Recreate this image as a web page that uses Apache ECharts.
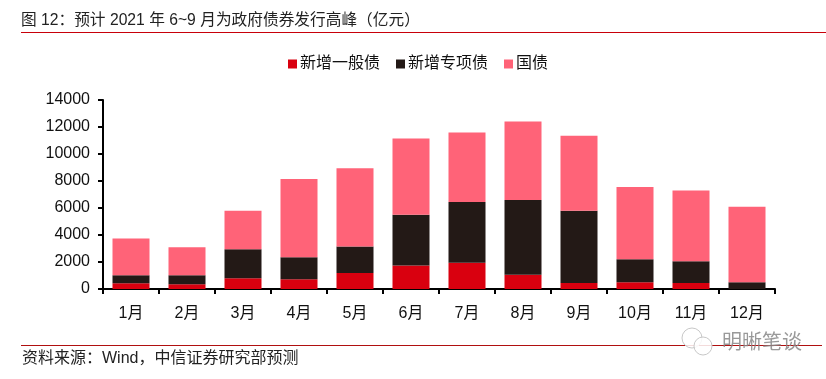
<!DOCTYPE html>
<html><head><meta charset="utf-8">
<style>html,body{margin:0;padding:0;background:#fff}#c{width:826px;height:379px}</style>
<script src="https://cdn.jsdelivr.net/npm/echarts@6/dist/echarts.min.js"></script>
</head><body><div id="c"></div>
<script>
const categories = ['1月','2月','3月','4月','5月','6月','7月','8月','9月','10月','11月','12月'];
const general = [430,350,800,720,1180,1750,1950,1050,450,500,450,0];
const special = [590,670,2150,1630,1970,3750,4500,5550,5350,1700,1600,500];
const treasury = [2730,2080,2850,5800,5800,5650,5150,5800,5550,5350,5250,5600];
const yTicks = [0,2000,4000,6000,8000,10000,12000,14000];
const titleText = '图 12\uFF1A预计 2021 年 6~9 月为政府债券发行高峰\uFF08亿元\uFF09';
const sourceText = '资料来源\uFF1AWind\uFF0C中信证券研究部预测';
const FONT = '"Liberation Sans","Noto Sans CJK SC",sans-serif';
const chart = echarts.init(document.getElementById('c'), null, {renderer:'canvas'});
const mk = (name, data, color) => ({name, type:'bar', stack:'a', data, barWidth:37, itemStyle:{color}});
chart.setOption({
  animation:false,
  backgroundColor:'#fff',
  grid:{left:103,right:51,top:100,bottom:90,containLabel:false},
  legend:{top:51,left:283,itemWidth:9,itemHeight:9,itemGap:16,icon:'rect',
    textStyle:{fontFamily:FONT,fontSize:16,color:'#111',padding:[0,0,0,-2]},
    data:['新增一般债','新增专项债','国债']},
  xAxis:{type:'category',data:categories,
    axisLine:{lineStyle:{color:'#000',width:2}},
    axisTick:{show:true,length:5,alignWithLabel:false,lineStyle:{color:'#000',width:2}},
    axisLabel:{fontFamily:FONT,fontSize:16,color:'#111',margin:17}},
  yAxis:{type:'value',min:0,max:14000,interval:2000,
    axisLine:{show:true,lineStyle:{color:'#000',width:2}},
    axisTick:{show:true,length:5,lineStyle:{color:'#000',width:2}},
    splitLine:{show:false},
    axisLabel:{fontFamily:FONT,fontSize:16,color:'#111',margin:13,
      formatter:v=>yTicks.includes(v)?String(v):''}},
  series:[mk('新增一般债',general,'#d9000f'),mk('新增专项债',special,'#231916'),mk('国债',treasury,'#ff6378')],
  graphic:[
    {type:'text',left:21,top:13,style:{text:titleText,font:'15.7px '+FONT,fill:'#222'}},
    {type:'rect',shape:{x:21,y:32,width:805,height:1},style:{fill:'#c8000a'},silent:true},
    {type:'rect',shape:{x:21,y:345,width:801,height:1},style:{fill:'#b01010'},silent:true},
    {type:'text',left:22,top:351,style:{text:sourceText,font:'16px '+FONT,fill:'#222'}},
    {type:'circle',shape:{cx:692,cy:338,r:10},style:{fill:'rgba(255,255,255,0.85)',stroke:'#c8c8c8',lineWidth:1}},
    {type:'circle',shape:{cx:703,cy:346,r:9},style:{fill:'rgba(255,255,255,0.85)',stroke:'#c8c8c8',lineWidth:1}},
    {type:'text',left:722,top:331,style:{text:'明晰笔谈',font:'20px "Noto Sans CJK SC"',fill:'rgba(135,135,135,0.85)'}}
  ]
});
</script></body></html>
